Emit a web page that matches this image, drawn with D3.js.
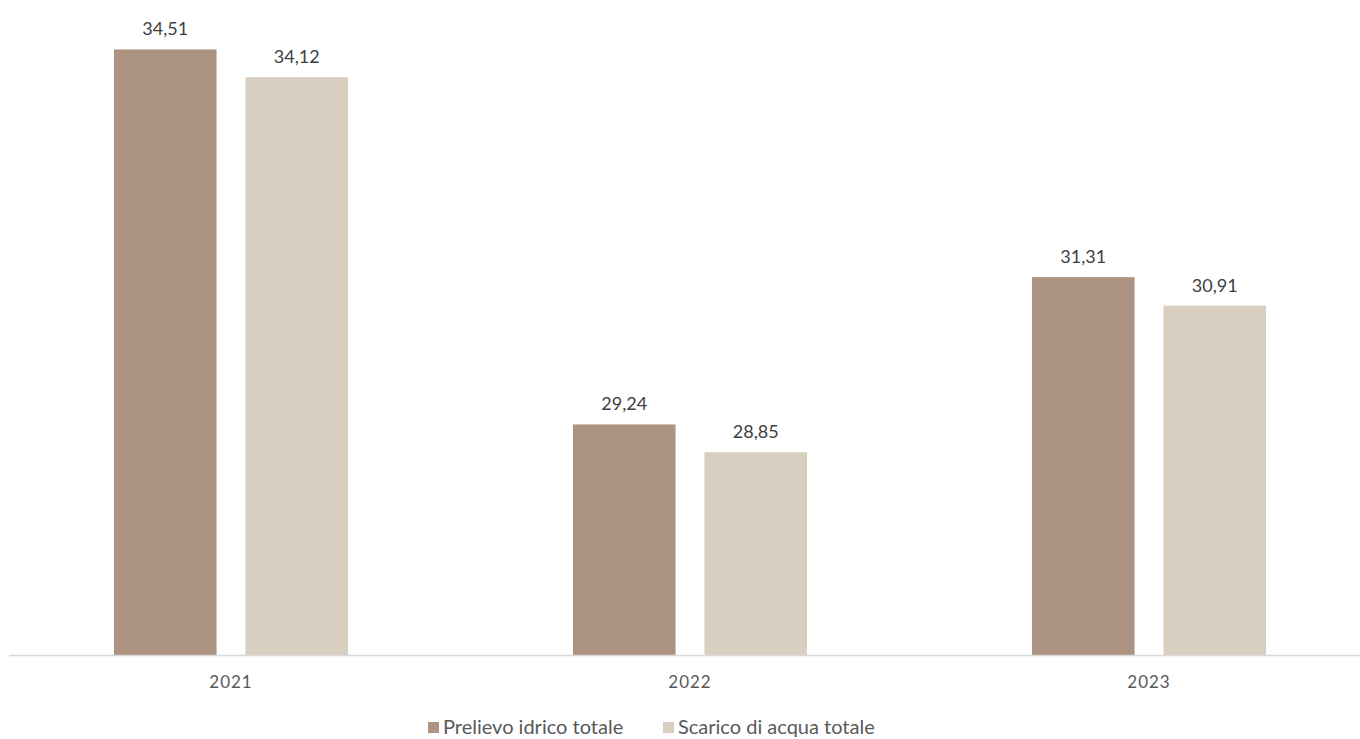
<!DOCTYPE html>
<html>
<head>
<meta charset="utf-8">
<script src="https://cdn.jsdelivr.net/npm/d3@7"></script>
<style>
  html, body { margin: 0; padding: 0; background: #fff; }
  svg { display: block; font-family: Lato, "Open Sans", sans-serif; }
</style>
</head>
<body>
<div id="chart"></div>
<script>
const years = ["2021", "2022", "2023"];
const series = ["Prelievo idrico totale", "Scarico di acqua totale"];
const prelievo = [34.51, 29.24, 31.31];
const scarico = [34.12, 28.85, 30.91];
const colors = ["#ad9381", "#d8cfc0"];

const width = 1360;
const height = 739;
const baseline = 655;

const svg = d3
  .select("#chart")
  .append("svg")
  .attr("width", width)
  .attr("height", height)
  .attr("viewBox", [0, 0, width, height]);

const x0 = d3
  .scaleBand()
  .domain(years)
  .range([1.5, 1378.5])
  .paddingInner(0.49)
  .paddingOuter(0.245);

const x1 = d3
  .scaleBand()
  .domain(series)
  .range([0, x0.bandwidth()])
  .paddingInner(0.22);

const y = d3.scaleLinear().domain([26, 35]).range([baseline, 14.6]);

const rows = years.map((yr, i) => ({
  year: yr,
  values: [prelievo[i], scarico[i]],
}));

const groups = svg
  .selectAll("g.year")
  .data(rows)
  .join("g")
  .attr("class", "year")
  .attr("transform", (d) => `translate(${x0(d.year)},0)`);

groups
  .selectAll("rect")
  .data((d) => d.values.map((v, j) => ({ s: series[j], v, j })))
  .join("rect")
  .attr("x", (d) => x1(d.s))
  .attr("y", (d) => y(d.v))
  .attr("width", x1.bandwidth())
  .attr("height", (d) => baseline - y(d.v))
  .attr("fill", (d) => colors[d.j]);

const fmt = d3.format(".2f");
groups
  .selectAll("text.val")
  .data((d) => d.values.map((v, j) => ({ s: series[j], v })))
  .join("text")
  .attr("class", "val")
  .attr("x", (d) => x1(d.s) + x1.bandwidth() / 2)
  .attr("y", (d) => y(d.v) - 14)
  .attr("text-anchor", "middle")
  .attr("font-size", 18)
  .attr("fill", "#404040")
  .text((d) => fmt(d.v).replace(".", ","));

// x axis
svg
  .append("line")
  .attr("x1", 9)
  .attr("x2", width)
  .attr("y1", baseline + 0.5)
  .attr("y2", baseline + 0.5)
  .attr("stroke", "#d9d9d9")
  .attr("stroke-width", 1.5);

svg
  .selectAll("text.tick")
  .data(years)
  .join("text")
  .attr("class", "tick")
  .attr("x", (d) => x0(d) + x0.bandwidth() / 2)
  .attr("y", 688)
  .attr("text-anchor", "middle")
  .attr("font-size", 17)
  .attr("letter-spacing", 1)
  .attr("fill", "#595959")
  .text((d) => d);

// legend
const legendX = [428, 663];
const legend = svg
  .selectAll("g.legend")
  .data(series)
  .join("g")
  .attr("class", "legend")
  .attr("transform", (d, i) => `translate(${legendX[i]},722)`);

legend
  .append("rect")
  .attr("width", 11)
  .attr("height", 11)
  .attr("fill", (d, i) => colors[i]);

legend
  .append("text")
  .attr("x", 15)
  .attr("y", 12)
  .attr("font-size", 20)
  .attr("fill", "#595959")
  .text((d) => d);
</script>
</body>
</html>
